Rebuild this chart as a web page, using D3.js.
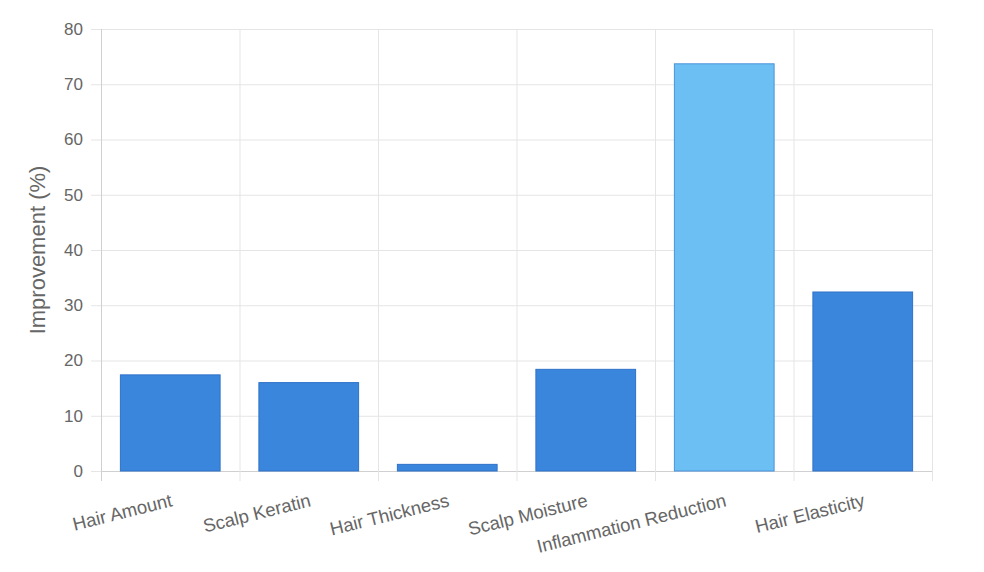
<!DOCTYPE html>
<html>
<head>
<meta charset="utf-8">
<script src="https://cdn.jsdelivr.net/npm/d3@7"></script>
<style>
  body { margin: 0; background: #fff; overflow: hidden; }
  svg { display: block; overflow: visible; }
  text { font-family: "Liberation Sans", Arial, sans-serif; }
</style>
</head>
<body>
<div id="chart"></div>
<script>
const categories = ["Hair Amount", "Scalp Keratin", "Hair Thickness", "Scalp Moisture", "Inflammation Reduction", "Hair Elasticity"];
const values = [17.4, 16.0, 1.2, 18.4, 73.7, 32.4];
const highlight = [false, false, false, false, true, false];
const yTicks = [0, 10, 20, 30, 40, 50, 60, 70, 80];

const width = 984, height = 572;
const margin = {top: 29, right: 52, bottom: 101, left: 101};
const innerWidth = width - margin.left - margin.right;
const innerHeight = height - margin.top - margin.bottom;

const svg = d3.select("#chart").append("svg")
  .attr("width", width).attr("height", height);

const x = d3.scaleBand().domain(categories).range([0, innerWidth]).paddingInner(0).paddingOuter(0);
const y = d3.scaleLinear().domain([0, 80]).range([innerHeight, 0]);

const g = svg.append("g").attr("transform", `translate(${margin.left},${margin.top})`);

// horizontal grid + y ticks
const yAxis = g.append("g")
  .call(d3.axisLeft(y).tickValues(yTicks).tickSize(10).tickPadding(8));
yAxis.select(".domain").remove();
yAxis.selectAll(".tick line").attr("stroke", "#e5e5e5");
yAxis.selectAll(".tick text").attr("fill", "#666").style("font-size", "17px");
g.append("g").selectAll("line").data(yTicks).enter().append("line")
  .attr("x1", 0).attr("x2", innerWidth)
  .attr("y1", d => y(d) + 0.5).attr("y2", d => y(d) + 0.5)
  .attr("stroke", d => d === 0 ? "#d0d0d0" : "#e5e5e5");

// vertical grid lines
const xEdges = categories.map(c => x(c)).concat([innerWidth]);
g.append("g").selectAll("line").data(xEdges).enter().append("line")
  .attr("x1", d => d + 0.5).attr("x2", d => d + 0.5)
  .attr("y1", 0).attr("y2", innerHeight + 10)
  .attr("stroke", (d, i) => i === 0 ? "#d0d0d0" : "#e5e5e5");

// bars
const barW = x.bandwidth() * 0.72;
g.selectAll("rect.bar").data(categories).enter().append("rect")
  .attr("class", "bar")
  .attr("x", d => x(d) + (x.bandwidth() - barW) / 2)
  .attr("y", (d, i) => y(values[i]))
  .attr("width", barW)
  .attr("height", (d, i) => innerHeight - y(values[i]))
  .attr("fill", (d, i) => highlight[i] ? "#6cbff2" : "#3b86dd")
  .attr("stroke", (d, i) => highlight[i] ? "#4a92dc" : "#2f72c8")
  .attr("stroke-width", 1);

// x labels
g.append("g").selectAll("text").data(categories).enter().append("text")
  .attr("transform", d => `translate(${x(d) + x.bandwidth() / 2 + 3},${innerHeight + 35}) rotate(-14)`)
  .attr("text-anchor", "end")
  .attr("fill", "#666")
  .style("font-size", "18.5px")
  .text(d => d);

// y title
svg.append("text")
  .attr("transform", `translate(45,${margin.top + innerHeight / 2}) rotate(-90)`)
  .attr("text-anchor", "middle")
  .attr("fill", "#666")
  .style("font-size", "22px")
  .text("Improvement (%)");
</script>
</body>
</html>
